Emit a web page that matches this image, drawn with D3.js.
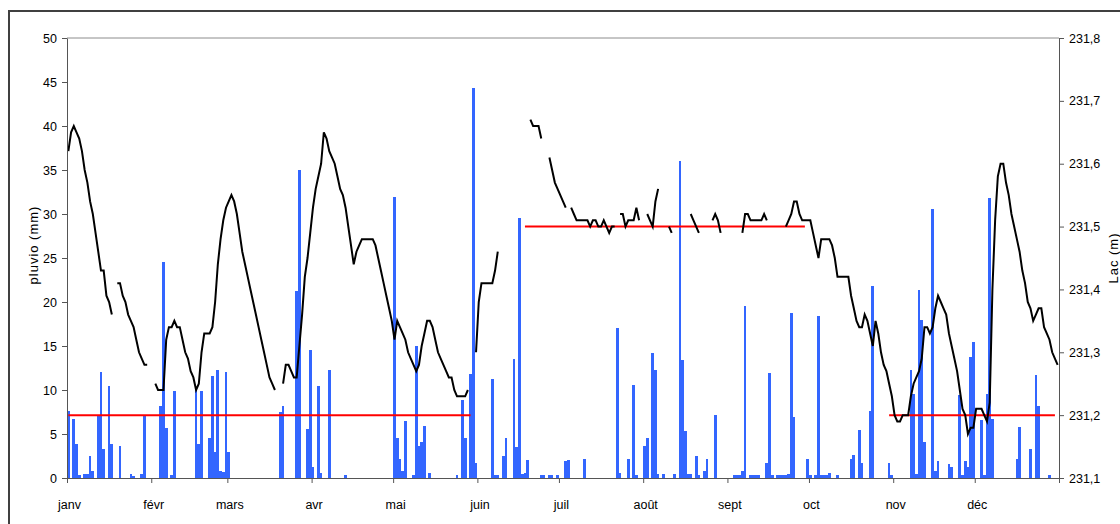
<!DOCTYPE html>
<html><head><meta charset="utf-8">
<script src="https://cdn.jsdelivr.net/npm/d3@7"></script>
<style>
body{margin:0;background:#fff;}
svg text{font-family:"Liberation Sans", Arial, sans-serif; fill:#000;}
</style></head><body>
<svg id="chart" width="1120" height="524"></svg>
<script>
// ---- data ----
const months = ["janv","févr","mars","avr","mai","juin","juil","août","sept","oct","nov","déc"];
const monthDays = [31,28,31,30,31,30,31,31,30,31,30,31];
const pluvioTicks = [0,5,10,15,20,25,30,35,40,45,50];
const lacTicks = [231.1,231.2,231.3,231.4,231.5,231.6,231.7,231.8];

// daily rainfall (mm), one row per month
const pluvio = [
 7.6,0,6.7,3.9,0.3,0,0.4,0.4,2.5,0.8,0,7.1,12.1,3.3,0,10.4,3.9,0,0,3.6,0,0,0,0.5,0.2,0,0,0.5,7.0,0,0,
 0,0,0,8.2,24.5,5.7,0,0.3,9.9,0,0,0,0,0,0,0,10.1,3.9,9.9,0,0,4.5,11.6,3.0,12.3,0.8,0.7,12.0,
 2.9,0,0,0,0,0,0,0,0,0,0,0,0,0,0,0,0,0,0,7.5,8.2,0,0,0,0,21.2,35.0,0,0,5.6,14.5,
 1.3,0,10.4,0.6,0,0,12.3,0,0,0,0,0,0.3,0,0,0,0,0,0,0,0,0,0,0,0,0,0,0,0,0,
 31.9,4.5,2.2,0.8,6.5,0,0,0.3,15.0,3.6,4.1,5.9,0,0.6,0,0,0,0,0,0,0,0,0,0.3,0,8.9,4.6,0,11.8,44.3,1.7,
 0,0,0,0,0,11.3,0.3,0.3,0,2.5,4.6,0,0,13.5,3.5,29.6,0.5,0.6,2.1,0,0,0,0,0.3,0.3,0,0.3,0.3,0,0.3,
 0,0,1.9,2.1,0,0,0,0,0,2.2,0,0,0,0,0,0,0,0,0,0,0,17.0,0.6,0,0,2.2,0,10.6,0.3,0,0,
 3.6,4.6,0,14.2,12.3,0.4,0,0.4,0,0,0,0.4,0,36.0,13.4,5.3,0.4,0.4,0,2.5,0.3,0,0.8,2.2,0,0,7.2,0,0,0,0,
 0,0,0.3,0.3,0.3,0.8,19.5,0,0.3,0.3,0.3,0.3,0,0,1.7,11.9,0.3,0,0.3,0.3,0.3,0.3,0.4,18.7,6.9,0,0,0,0,2.2,
 0.3,0,0.3,18.4,0.3,0.3,0.3,0.6,0,0,0.3,0,0,0,0,2.2,2.6,0,5.5,1.7,0,0,7.6,21.8,0,0,0,0,0,1.7,0.3,
 0,0,0,0,0,0,12.3,9.6,0.5,21.4,18.0,4.1,0,0,30.6,0.8,1.9,0,0,0,1.6,1.2,0,0,9.4,0.3,1.9,1.2,13.8,15.4,
 0,0,6.6,0.3,9.5,31.8,6.7,0,0,0,0,0,0,0,0,2.2,5.8,0,0,0,3.3,0,11.7,8.2,0,0,0,0.3,0,0,0
];

// daily lake level (m), null = no reading
const lac = [
 231.62,231.65,231.66,231.65,231.64,231.62,231.59,231.57,231.54,231.52,231.49,231.46,231.43,231.43,231.39,231.38,231.36,null,231.41,231.41,231.39,231.38,231.36,231.35,231.34,231.32,231.30,231.29,231.28,231.28,null,
 null,231.25,231.24,231.24,231.24,231.32,231.34,231.34,231.35,231.34,231.34,231.32,231.30,231.29,231.27,231.26,231.24,231.25,231.30,231.33,231.33,231.33,231.34,231.38,231.44,231.48,231.51,231.53,
 231.54,231.55,231.54,231.52,231.49,231.46,231.44,231.42,231.40,231.38,231.36,231.34,231.32,231.30,231.28,231.26,231.25,231.24,null,null,231.25,231.28,231.28,231.27,231.26,231.26,231.31,231.36,231.42,231.45,231.49,
 231.53,231.56,231.58,231.60,231.65,231.64,231.62,231.61,231.60,231.58,231.56,231.55,231.53,231.50,231.47,231.44,231.46,231.47,231.48,231.48,231.48,231.48,231.48,231.47,231.45,231.43,231.41,231.39,231.37,231.35,
 231.32,231.35,231.34,231.33,231.32,231.30,231.29,231.28,231.27,231.28,231.31,231.33,231.35,231.35,231.34,231.32,231.30,231.29,231.28,231.27,231.26,231.26,231.24,231.23,231.23,231.23,231.23,231.24,null,null,231.30,
 231.38,231.41,231.41,231.41,231.41,231.41,231.43,231.46,null,null,null,null,null,null,null,null,null,null,null,231.67,231.66,231.66,231.66,231.64,null,null,231.61,231.59,231.57,231.56,
 231.55,231.54,231.53,null,231.53,231.52,231.51,231.51,231.51,231.51,231.51,231.50,231.51,231.51,231.50,231.50,231.51,231.50,231.49,231.50,231.50,null,231.52,231.52,231.50,231.51,231.51,231.51,231.53,231.51,null,
 null,231.52,231.51,231.50,231.54,231.56,null,null,null,231.50,231.49,null,null,null,null,null,null,231.52,231.51,231.50,231.49,null,null,null,null,231.51,231.52,231.51,231.49,null,null,
 null,null,null,null,null,231.49,231.52,231.52,231.51,231.51,231.51,231.51,231.51,231.52,231.51,null,null,null,null,null,null,231.50,231.51,231.52,231.54,231.54,231.52,231.51,231.51,231.51,
 231.51,231.49,231.47,231.45,231.48,231.48,231.48,231.48,231.47,231.45,231.42,231.42,231.42,231.42,231.42,231.39,231.37,231.35,231.34,231.34,231.36,231.35,231.33,231.31,231.35,231.33,231.30,231.28,231.27,231.25,231.23,
 231.20,231.19,231.19,231.20,231.20,231.20,231.23,231.25,231.26,231.27,231.29,231.34,231.34,231.33,231.34,231.37,231.39,231.38,231.37,231.36,231.33,231.31,231.29,231.27,231.24,231.21,231.20,231.17,231.18,231.18,
 231.21,231.21,231.21,231.20,231.19,231.22,231.40,231.51,231.58,231.60,231.60,231.57,231.55,231.52,231.50,231.48,231.46,231.43,231.41,231.38,231.37,231.35,231.36,231.37,231.37,231.34,231.33,231.32,231.30,231.29,231.28
];

// reference levels (red lines): first/last day index and level
const seuilDebut = [0, 168, 302];
const seuilFin = [148, 271, 363];
const seuilNiveau = [231.2, 231.5, 231.2];

// ---- layout ----
const L = 67, R = 1059, T = 38, B = 478;
const svg = d3.select("#chart");
const nDays = pluvio.length;
const x = d3.scaleLinear().domain([0, nDays]).range([L, R]);
const yL = d3.scaleLinear().domain([0, 50]).range([B, T]);
const yR = d3.scaleLinear().domain([231.1, 231.8]).range([B, T]);
const xc = i => x(i + 0.5);

// outer frame
svg.append("path").attr("d", "M9,524V11H1120").attr("fill", "none")
  .attr("stroke", "#404040").attr("stroke-width", 2);

// top line of plot area
svg.append("line").attr("x1", L).attr("x2", R).attr("y1", T).attr("y2", T)
  .attr("stroke", "#8c8c8c").attr("stroke-width", 1);

// bars
svg.append("g").selectAll("rect").data(pluvio).join("rect")
  .attr("x", (d, i) => x(i)).attr("width", (d, i) => x(i + 1) - x(i))
  .attr("y", d => yL(d)).attr("height", d => B - yL(d))
  .attr("fill", "#3366ff").attr("shape-rendering", "crispEdges");

// red reference lines
svg.append("g").selectAll("line").data(seuilNiveau).join("line")
  .attr("x1", (d, i) => xc(seuilDebut[i])).attr("x2", (d, i) => xc(seuilFin[i]))
  .attr("y1", d => yR(d)).attr("y2", d => yR(d))
  .attr("stroke", "#ff0000").attr("stroke-width", 2);

// lake level line
const line = d3.line().defined(d => d != null).x((d, i) => xc(i)).y(d => yR(d));
svg.append("path").datum(lac).attr("d", line).attr("fill", "none")
  .attr("stroke", "#000").attr("stroke-width", 2).attr("stroke-linejoin", "miter");

// axes
const fmtR = d => d.toFixed(1).replace(".", ",");
const axL = svg.append("g").attr("transform", `translate(${L},0)`)
  .call(d3.axisLeft(yL).tickValues(pluvioTicks).tickSize(5).tickSizeOuter(0).tickPadding(5).tickFormat(d3.format("d")));
const axR = svg.append("g").attr("transform", `translate(${R},0)`)
  .call(d3.axisRight(yR).tickValues(lacTicks).tickSize(5).tickSizeOuter(0).tickPadding(5).tickFormat(fmtR));
const monthStarts = [0].concat(Array.from(d3.cumsum(monthDays)));
const axB = svg.append("g").attr("transform", `translate(0,${B})`)
  .call(d3.axisBottom(x).tickValues(monthStarts).tickSize(5).tickSizeOuter(0).tickPadding(17)
    .tickFormat((d, i) => i < months.length ? months[i] : ""));
axB.selectAll("text").attr("dx", 2);

[axL, axR, axB].forEach(g => {
  g.selectAll("path.domain").attr("stroke", "#555");
  g.selectAll(".tick line").attr("stroke", "#555");
  g.selectAll("text").attr("font-size", 12.5).attr("fill", "#000")
    .attr("font-family", '"Liberation Sans", Arial, sans-serif');
});

// axis titles
svg.append("text").attr("transform", "translate(38,245) rotate(-90)")
  .attr("text-anchor", "middle").attr("font-size", 13).attr("letter-spacing", 1)
  .text("pluvio (mm)");
svg.append("text").attr("transform", "translate(1118,258) rotate(-90)")
  .attr("text-anchor", "middle").attr("font-size", 13).attr("letter-spacing", 1)
  .text("Lac (m)");
</script>
</body></html>
